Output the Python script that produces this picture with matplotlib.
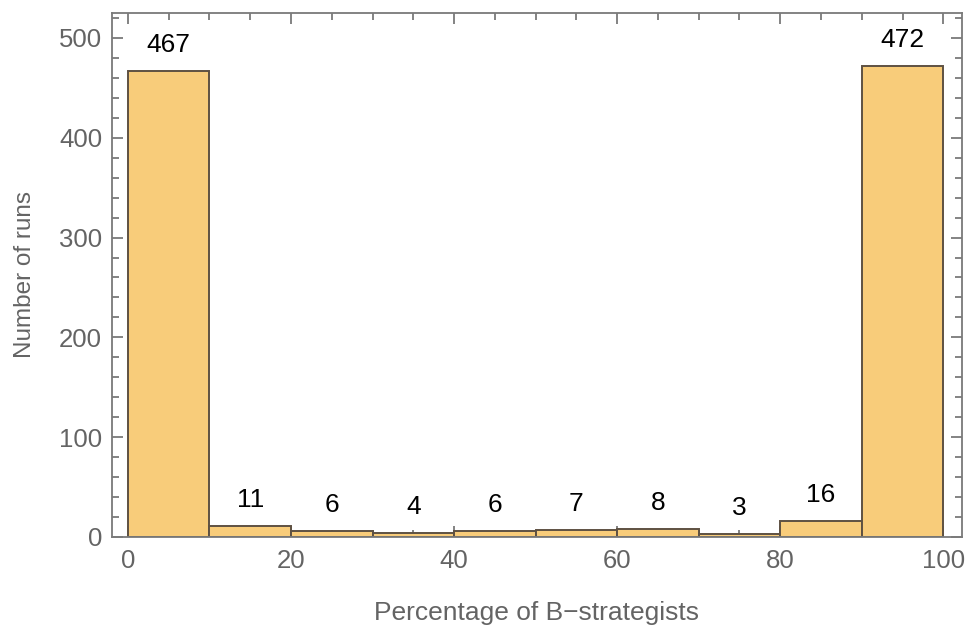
import numpy as np
import matplotlib.pyplot as plt
from matplotlib.ticker import MultipleLocator

plt.rcParams['font.family'] = ['Liberation Sans', 'DejaVu Sans']

bin_edges = [0, 10, 20, 30, 40, 50, 60, 70, 80, 90, 100]
counts = [467, 11, 6, 4, 6, 7, 8, 3, 16, 472]

FRAME = '#7a7a7a'
TICKTXT = '#646464'
FACE = '#f8cc7a'
EDGE = '#5e5142'


def plot_hist():
    fig = plt.figure(figsize=(9.66, 6.25), dpi=100)
    ax = fig.add_axes([0.1159, 0.1408, 0.88, 0.8384])

    left = np.array(bin_edges[:-1])
    widths = np.diff(bin_edges)
    ax.bar(left, counts, width=widths, align='edge', color=FACE,
           edgecolor=EDGE, linewidth=1.4, zorder=2)

    for x, w, c in zip(left, widths, counts):
        ax.annotate(str(c), (x + w / 2, c), xytext=(0, 26), textcoords='offset pixels',
                    ha='center', va='center', fontsize=19, color='black')

    ax.set_xlim(-1.96, 102.3)
    ax.set_ylim(0, 525)

    ax.xaxis.set_major_locator(MultipleLocator(20))
    ax.xaxis.set_minor_locator(MultipleLocator(5))
    ax.yaxis.set_major_locator(MultipleLocator(100))
    ax.yaxis.set_minor_locator(MultipleLocator(20))

    ax.tick_params(which='both', direction='in', top=True, right=True,
                   color=FRAME, width=1.3, labelcolor=TICKTXT, labelsize=18.5)
    ax.tick_params(which='major', length=8, pad=7)
    ax.tick_params(axis='x', which='major', pad=9)
    ax.tick_params(which='minor', length=5)

    for s in ax.spines.values():
        s.set_color(FRAME)
        s.set_linewidth(1.3)

    ax.set_xlabel('Percentage of B\u2212strategists', fontsize=19, color=TICKTXT, labelpad=20)
    ax.set_ylabel('Number of runs', fontsize=17.5, color=TICKTXT, labelpad=17)

    fig.savefig('out.png', dpi=100)


if __name__ == "__main__":
    plot_hist()
